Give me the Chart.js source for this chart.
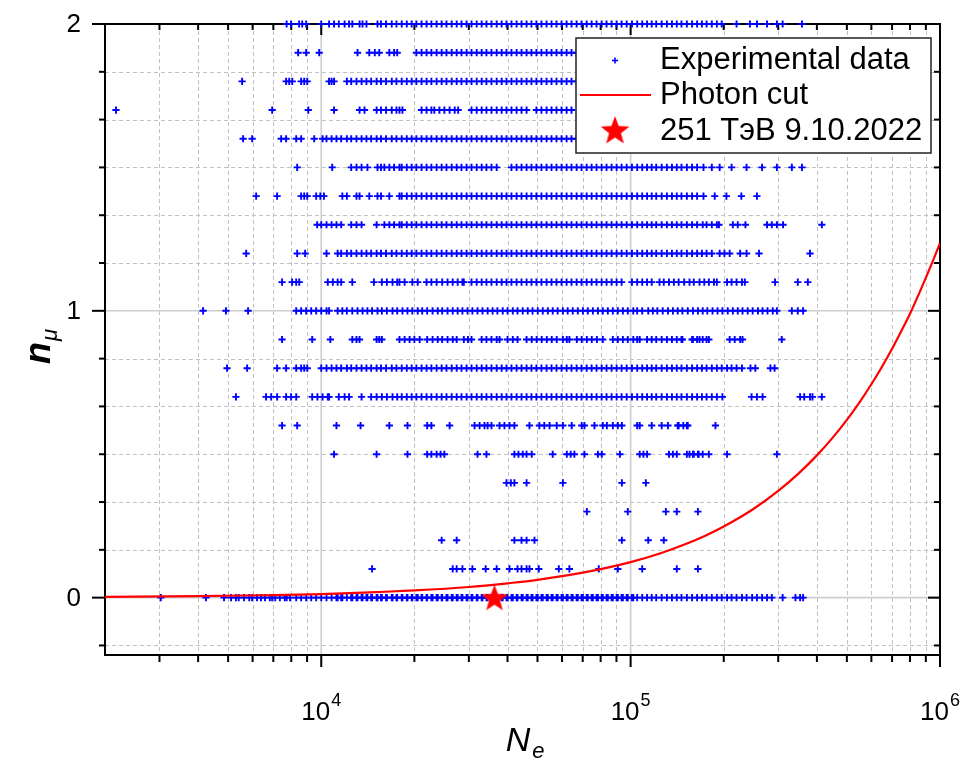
<!DOCTYPE html>
<html>
<head>
<meta charset="utf-8">
<title>n_mu vs N_e</title>
<script src="https://cdn.jsdelivr.net/npm/chart.js@4.4.0/dist/chart.umd.min.js"></script>
<style>
  html, body { margin: 0; padding: 0; background: #fff; }
  #wrap { width: 964px; height: 761px; }
</style>
</head>
<body>
<div id="wrap"><canvas id="chart" width="964" height="761"></canvas></div>
<script>
// n_mu levels of the experimental data rows
const muLevels = [0, 0.1, 0.2, 0.3, 0.4, 0.5, 0.6, 0.7, 0.8, 0.9, 1.0, 1.1, 1.2, 1.3, 1.4, 1.5, 1.6, 1.7, 1.8, 1.9, 2.0];

// N_e values (in thousands) for each n_mu row
const row00 = [3.03, 4.24, 4.85, 5.11, 5.30, 5.41, 5.63, 5.85, 5.98, 6.20, 6.39, 6.58, 6.82, 6.94, 7.10, 7.35, 7.62, 7.73, 7.93, 8.30, 8.61, 8.94, 9.28, 9.63, 10.0, 10.4, 10.8, 11.2, 11.3, 11.6, 11.7, 12.1, 12.5, 12.6, 13.0, 13.1, 13.5, 13.6, 14.0, 14.1, 14.5, 14.6, 15.1, 15.2, 15.6, 15.7, 16.2, 16.3, 16.9, 17.0, 17.5, 17.6, 18.2, 18.3, 18.9, 19.0, 19.6, 19.7, 20.3, 20.5, 21.1, 21.2, 21.9, 22.0, 22.7, 22.9, 23.6, 23.8, 24.5, 24.6, 25.4, 25.6, 26.4, 26.6, 27.4, 27.6, 28.4, 28.6, 29.5, 29.7, 30.6, 30.8, 31.8, 32.0, 33.0, 33.2, 34.2, 34.5, 35.5, 35.8, 36.9, 37.1, 38.3, 38.6, 39.7, 40.0, 41.2, 41.6, 42.8, 43.1, 44.4, 44.8, 46.1, 46.5, 47.8, 48.2, 49.6, 50.1, 51.5, 52.0, 53.5, 54.0, 55.5, 56.0, 57.6, 58.1, 59.8, 60.4, 62.1, 62.6, 64.4, 65.0, 66.9, 67.5, 69.4, 70.1, 72.1, 72.7, 74.8, 75.5, 77.6, 78.4, 80.6, 81.3, 83.6, 84.4, 86.8, 87.6, 90.1, 90.9, 93.5, 94.4, 97.1, 97.9, 101, 102, 105, 109, 113, 117, 121, 126, 131, 136, 141, 146, 152, 158, 164, 170, 176, 183, 190, 197, 205, 212, 220, 229, 237, 247, 256, 266, 276, 286, 310, 341, 353, 361];
const row01 = [14.6, 26.6, 27.4, 28.6, 30.8, 34.0, 36.9, 40.6, 43.1, 44.4, 46.1, 47.1, 50.5, 58.6, 63.4, 78.9, 90.9, 109, 141, 165];
const row02 = [24.5, 27.4, 42.1, 44.4, 46.1, 48.9, 93.7, 114, 128];
const row03 = [72.2, 97.9, 130, 141, 165];
const row04 = [39.7, 41.0, 42.1, 46.1, 60.4, 93.7, 112];
const row05 = [11.0, 15.1, 19.0, 22.0, 22.7, 23.6, 24.3, 25.0, 32.0, 34.2, 42.1, 43.4, 44.8, 46.1, 47.9, 56.0, 62.2, 64.0, 65.8, 70.9, 78.4, 80.7, 92.3, 107, 110, 113, 133, 137, 141, 152, 155, 159, 160, 165, 166, 171, 179, 205, 297];
const row06 = [7.47, 8.36, 11.2, 13.4, 16.6, 19.0, 22.0, 22.7, 26.0, 31.3, 32.5, 33.7, 34.5, 35.5, 37.7, 39.1, 40.6, 42.1, 47.1, 50.7, 52.6, 54.7, 57.7, 60.4, 64.5, 69.5, 70.9, 76.4, 81.3, 83.8, 87.6, 90.9, 93.7, 105, 107, 117, 126, 132, 142, 143, 148, 152, 153, 188];
const row07 = [5.30, 6.63, 6.89, 7.20, 7.70, 7.99, 8.30, 9.35, 9.72, 10.1, 10.5, 10.6, 11.4, 11.9, 12.3, 13.5, 14.5, 15.1, 15.7, 16.3, 17.0, 17.6, 18.2, 18.9, 19.6, 20.3, 21.1, 21.9, 22.7, 23.6, 24.5, 25.4, 26.4, 27.4, 28.4, 29.5, 30.6, 31.8, 33.0, 34.2, 35.5, 36.9, 38.3, 39.7, 41.2, 42.8, 44.4, 46.1, 47.8, 49.6, 51.5, 53.5, 55.5, 57.6, 59.8, 62.1, 64.4, 66.9, 69.4, 72.1, 74.8, 77.6, 80.6, 83.6, 86.8, 90.1, 93.5, 97.1, 101, 105, 109, 113, 117, 121, 126, 131, 136, 141, 146, 152, 158, 164, 170, 176, 183, 190, 198, 246, 256, 267, 353, 364, 380, 387, 415];
const row08 = [4.96, 5.76, 7.20, 7.70, 8.30, 8.61, 8.81, 9.01, 10.0, 10.4, 10.8, 11.2, 11.6, 12.1, 12.5, 13.0, 13.5, 14.0, 14.5, 15.1, 15.6, 16.2, 16.9, 17.5, 18.2, 18.9, 19.6, 20.3, 21.1, 21.9, 22.7, 23.6, 24.5, 25.4, 26.4, 27.4, 28.4, 29.5, 30.6, 31.8, 33.0, 34.2, 35.5, 36.9, 38.3, 39.7, 41.2, 42.8, 44.4, 46.1, 47.8, 49.6, 51.5, 53.5, 55.5, 57.6, 59.8, 62.1, 64.4, 66.9, 69.4, 72.1, 74.8, 77.6, 80.6, 83.6, 86.8, 90.1, 93.5, 97.1, 101, 105, 109, 113, 117, 121, 126, 131, 136, 141, 146, 152, 158, 164, 170, 176, 183, 190, 197, 205, 212, 220, 229, 244, 253, 283, 292];
const row09 = [7.47, 9.35, 10.7, 12.6, 13.0, 13.3, 15.1, 15.4, 15.7, 17.9, 18.6, 19.3, 20.0, 20.8, 22.0, 22.9, 23.8, 24.6, 25.6, 26.6, 27.4, 28.9, 29.8, 30.6, 33.0, 34.2, 35.5, 36.9, 37.7, 40.0, 41.6, 43.1, 46.1, 47.9, 49.7, 51.6, 53.6, 55.6, 57.7, 60.4, 62.2, 63.4, 67.0, 69.5, 72.2, 74.9, 77.8, 81.3, 87.6, 90.9, 94.4, 97.9, 102, 105, 107, 113, 117, 121, 126, 131, 136, 141, 146, 147, 158, 159, 164, 167, 171, 176, 179, 209, 217, 226, 230, 308];
const row10 = [4.15, 4.92, 5.80, 8.30, 8.61, 8.94, 9.28, 9.63, 10.0, 10.4, 10.6, 11.3, 11.7, 12.1, 12.6, 13.1, 13.6, 14.1, 14.6, 15.2, 15.7, 16.3, 17.0, 17.6, 18.3, 19.0, 19.7, 20.5, 21.2, 22.0, 22.9, 23.8, 24.6, 25.6, 26.6, 27.6, 28.6, 29.7, 30.8, 32.0, 33.2, 34.5, 35.8, 37.1, 38.6, 40.0, 41.6, 43.1, 44.8, 46.5, 48.2, 50.1, 52.0, 54.0, 56.0, 58.1, 60.4, 62.6, 65.0, 67.5, 70.1, 72.7, 75.5, 78.4, 81.3, 84.4, 87.6, 90.9, 94.4, 97.9, 102, 105, 109, 114, 118, 122, 127, 132, 137, 142, 147, 153, 159, 165, 171, 177, 184, 191, 198, 206, 214, 222, 230, 239, 248, 258, 267, 277, 288, 297, 332, 347, 361];
const row11 = [7.47, 8.05, 8.30, 8.49, 10.5, 10.9, 11.3, 11.6, 12.6, 14.8, 15.7, 16.3, 17.0, 17.6, 17.9, 18.6, 19.7, 20.5, 21.9, 22.7, 23.6, 24.6, 25.6, 26.6, 27.6, 28.6, 28.9, 30.6, 31.8, 33.0, 34.2, 35.5, 36.9, 38.3, 39.7, 41.2, 42.8, 44.4, 46.1, 47.8, 49.6, 51.5, 53.5, 55.5, 57.6, 59.8, 62.1, 64.4, 66.9, 69.4, 72.1, 74.8, 77.6, 80.6, 83.6, 86.8, 90.1, 93.5, 101, 105, 109, 113, 117, 124, 128, 133, 138, 143, 149, 155, 160, 167, 173, 179, 186, 190, 205, 212, 220, 229, 234, 293, 347, 374];
const row12 = [5.72, 8.36, 8.87, 10.4, 11.3, 11.6, 12.1, 12.5, 13.0, 13.5, 14.0, 14.5, 15.1, 15.6, 16.2, 16.9, 17.5, 18.2, 18.9, 19.6, 20.3, 21.1, 21.9, 22.7, 23.6, 24.5, 25.4, 26.4, 27.4, 28.4, 29.5, 30.6, 31.8, 33.0, 34.2, 35.5, 36.9, 38.3, 39.7, 41.2, 42.8, 44.4, 46.1, 47.8, 49.6, 51.5, 53.5, 55.5, 57.6, 59.8, 62.1, 64.4, 66.9, 69.4, 72.1, 74.8, 77.6, 80.6, 83.6, 86.8, 90.1, 93.5, 97.1, 101, 105, 109, 113, 117, 121, 126, 131, 136, 141, 146, 152, 158, 164, 170, 176, 183, 194, 201, 209, 226, 237, 260, 380];
const row13 = [9.70, 10.0, 10.4, 10.8, 11.2, 11.6, 12.5, 13.0, 13.5, 15.1, 16.0, 16.6, 17.2, 17.9, 18.2, 18.9, 19.6, 20.3, 21.1, 21.9, 22.7, 23.6, 24.5, 25.4, 26.4, 27.4, 28.4, 29.5, 30.6, 31.8, 33.0, 34.2, 35.5, 36.9, 38.3, 39.7, 41.2, 42.8, 44.4, 46.1, 47.8, 49.6, 51.5, 53.5, 55.5, 57.6, 59.8, 62.1, 64.4, 66.9, 69.4, 72.1, 74.8, 77.6, 80.6, 83.6, 86.8, 90.1, 93.5, 97.1, 101, 105, 109, 113, 117, 121, 126, 131, 136, 141, 146, 152, 158, 164, 171, 176, 183, 190, 193, 214, 222, 235, 276, 286, 297, 311, 415];
const row14 = [6.16, 7.20, 8.61, 8.81, 9.01, 9.63, 9.93, 10.2, 11.7, 12.1, 13.0, 13.3, 14.3, 15.2, 15.6, 16.6, 17.9, 18.2, 18.9, 19.6, 20.3, 21.1, 21.9, 22.7, 23.6, 24.5, 25.4, 26.4, 27.4, 28.4, 29.5, 30.6, 31.8, 33.0, 34.2, 35.5, 36.9, 38.3, 39.7, 41.2, 42.8, 44.4, 46.1, 47.8, 49.6, 51.5, 53.5, 55.5, 57.6, 59.8, 62.1, 64.4, 66.9, 69.4, 72.1, 74.8, 77.6, 80.6, 83.6, 86.8, 90.1, 93.5, 97.1, 101, 105, 109, 113, 117, 121, 126, 131, 136, 141, 146, 152, 158, 164, 172, 187, 204, 228, 256];
const row15 = [8.36, 10.85, 12.5, 13.0, 13.5, 14.1, 15.2, 15.6, 16.0, 16.6, 17.2, 17.9, 18.2, 18.9, 19.6, 20.3, 21.1, 21.9, 22.7, 23.6, 24.5, 25.4, 26.4, 27.4, 28.4, 29.5, 30.6, 31.8, 33.0, 34.2, 35.5, 36.9, 41.2, 42.8, 44.4, 46.1, 47.8, 49.6, 51.5, 53.5, 55.5, 57.6, 59.8, 62.1, 64.4, 66.9, 69.4, 72.1, 74.8, 77.6, 80.6, 83.6, 86.8, 90.1, 93.5, 97.1, 101, 105, 109, 113, 117, 121, 126, 131, 136, 141, 146, 152, 158, 164, 172, 183, 194, 212, 237, 266, 297, 332, 358];
const row16 = [5.59, 5.98, 7.42, 7.70, 8.30, 8.61, 9.49, 10.1, 10.4, 10.8, 11.2, 11.6, 12.1, 12.5, 13.0, 13.5, 14.0, 14.5, 15.1, 15.6, 16.2, 16.9, 17.5, 18.2, 18.9, 19.6, 20.3, 21.1, 21.9, 22.7, 23.6, 24.5, 25.4, 26.4, 27.4, 28.4, 29.5, 30.6, 31.8, 33.0, 34.2, 35.5, 36.9, 38.3, 39.7, 41.2, 42.8, 44.4, 46.1, 47.8, 49.6, 51.5, 53.5, 55.5, 57.6, 59.8, 62.1, 64.4, 66.9, 72.1, 77.6, 83.6, 90.1, 97.1, 105, 113, 121, 131, 141, 152, 164];
const row17 = [2.17, 6.94, 9.08, 11.0, 13.3, 13.8, 15.1, 15.6, 16.2, 16.9, 17.5, 17.9, 18.3, 21.1, 21.9, 22.7, 23.2, 24.1, 25.0, 26.0, 27.0, 27.7, 30.6, 31.8, 33.0, 34.2, 35.5, 36.9, 38.3, 39.7, 41.2, 42.8, 44.4, 46.1, 49.6, 51.5, 53.5, 55.5, 57.6, 59.8, 62.1, 64.4, 73.8, 85.7, 107, 133];
const row18 = [5.55, 7.70, 7.88, 8.06, 8.61, 8.81, 9.01, 10.6, 10.8, 11.0, 12.1, 12.5, 13.0, 13.5, 14.0, 14.5, 15.1, 15.6, 16.2, 16.9, 17.5, 18.2, 18.9, 19.6, 20.3, 21.1, 21.9, 22.7, 23.6, 24.5, 25.4, 26.4, 27.4, 28.4, 29.5, 30.6, 31.8, 33.0, 34.2, 35.5, 36.9, 38.3, 39.7, 41.2, 42.8, 44.4, 46.1, 47.8, 49.6, 51.5, 53.5, 55.5, 57.6, 59.8, 62.1, 64.4, 66.9, 72.1, 77.6, 83.6, 90.1, 97.1, 105, 113, 121, 131, 141, 152, 164];
const row19 = [8.42, 8.94, 9.85, 13.1, 14.3, 14.9, 15.4, 16.6, 17.2, 17.6, 20.3, 21.1, 21.9, 22.7, 23.6, 24.5, 25.4, 26.4, 27.4, 28.4, 29.5, 30.6, 31.8, 33.0, 34.2, 35.5, 36.9, 38.3, 39.7, 41.2, 42.8, 44.4, 46.1, 47.8, 49.6, 51.5, 53.5, 55.5, 57.6, 59.8, 62.1, 64.4, 66.9, 72.1, 77.6, 83.6, 90.1, 97.1, 105, 113, 121, 131, 141, 152, 164];
const row20 = [7.73, 7.99, 8.48, 8.68, 8.94, 10.0, 10.6, 11.0, 11.4, 11.9, 12.3, 12.6, 13.3, 13.6, 14.0, 15.2, 15.6, 16.2, 16.9, 17.5, 18.2, 18.9, 19.6, 20.3, 21.1, 21.9, 22.7, 23.6, 24.5, 25.4, 26.4, 27.4, 28.4, 29.5, 30.6, 31.8, 33.0, 34.2, 35.5, 36.9, 38.3, 39.7, 41.2, 42.8, 44.4, 46.1, 47.8, 49.6, 51.5, 53.5, 55.5, 57.6, 59.8, 62.1, 64.4, 66.9, 69.4, 72.1, 74.8, 77.6, 80.6, 83.6, 86.8, 90.1, 93.5, 97.1, 101, 105, 109, 113, 117, 121, 126, 131, 136, 141, 146, 152, 158, 164, 170, 176, 183, 190, 197, 220, 243, 256, 276, 297, 310, 358];

const neRows = [row00, row01, row02, row03, row04, row05, row06, row07, row08, row09, row10,
                row11, row12, row13, row14, row15, row16, row17, row18, row19, row20];

// photon cut curve
const photonCutNe = [2000, 4000, 7000, 10000, 15000, 20000, 30000, 40000, 50000, 70000, 100000, 125000, 150000, 175000, 200000, 250000, 300000, 350000, 400000, 450000, 500000, 550000, 600000, 650000, 700000, 750000, 800000, 850000, 900000, 950000, 1000000];
const photonCutMu = [0.0025, 0.005, 0.009, 0.012, 0.019, 0.025, 0.037, 0.050, 0.062, 0.087, 0.124, 0.155, 0.186, 0.217, 0.248, 0.31, 0.372, 0.434, 0.496, 0.558, 0.62, 0.682, 0.744, 0.806, 0.868, 0.93, 0.99, 1.053, 1.115, 1.176, 1.236];

// the 251 TeV event
const eventNe = [36300];
const eventMu = [0];

// axis ticks
const xMajorTicks = [1e4, 1e5, 1e6];
const xTickExp = ['4', '5', '6'];
const xMinorTicks = [3000, 4000, 5000, 6000, 7000, 8000, 9000,
                     20000, 30000, 40000, 50000, 60000, 70000, 80000, 90000,
                     200000, 300000, 400000, 500000, 600000, 700000, 800000, 900000];
const yMajorTicks = [0, 1, 2];
const yTickLabels = ['0', '1', '2'];
const yMinorTicks = [-0.1667, 0.1667, 0.3333, 0.5, 0.6667, 0.8333, 1.1667, 1.3333, 1.5, 1.6667, 1.8333];

const FONT = "'Liberation Sans', Arial, sans-serif";

const expPoints = [];
neRows.forEach((row, i) => {
    row.forEach(v => expPoints.push({ x: v * 1000, y: muLevels[i] }));
});

function makeStar(size) {
    const c = document.createElement('canvas');
    c.width = size;
    c.height = size;
    const g = c.getContext('2d');
    const cx = size / 2, cy = size / 2 + size * 0.04;
    const R = size / 2, r = R * 0.42;
    g.fillStyle = '#ff0000';
    g.beginPath();
    for (let k = 0; k < 10; k++) {
        const a = -Math.PI / 2 + k * Math.PI / 5;
        const rr = k % 2 ? r : R;
        g.lineTo(cx + rr * Math.cos(a), cy + rr * Math.sin(a));
    }
    g.closePath();
    g.fill();
    return c;
}
const starImg = makeStar(28);

function strokeLine(ctx, x1, y1, x2, y2) {
    ctx.beginPath();
    ctx.moveTo(x1, y1);
    ctx.lineTo(x2, y2);
    ctx.stroke();
}

// grid, frame, ticks and axis text
const framePlugin = {
    id: 'frame',
    beforeDatasetsDraw(chart) {
        const { ctx, chartArea: a, scales: { x, y } } = chart;
        ctx.save();

        // minor grid (dashed)
        ctx.strokeStyle = '#c2c2c2';
        ctx.lineWidth = 1;
        ctx.setLineDash([4, 3]);
        xMinorTicks.forEach(v => {
            const px = Math.round(x.getPixelForValue(v)) + 0.5;
            strokeLine(ctx, px, a.top, px, a.bottom);
        });
        yMinorTicks.forEach(v => {
            const py = Math.round(y.getPixelForValue(v)) + 0.5;
            strokeLine(ctx, a.left, py, a.right, py);
        });

        // major grid (solid)
        ctx.setLineDash([]);
        ctx.strokeStyle = '#cdcdcd';
        ctx.lineWidth = 1.6;
        xMajorTicks.forEach(v => {
            const px = x.getPixelForValue(v);
            if (px < a.right - 2) strokeLine(ctx, px, a.top, px, a.bottom);
        });
        yMajorTicks.forEach(v => {
            const py = y.getPixelForValue(v);
            if (py > a.top + 2) strokeLine(ctx, a.left, py, a.right, py);
        });

        // frame
        ctx.strokeStyle = '#000';
        ctx.lineWidth = 2;
        ctx.strokeRect(a.left, a.top, a.width, a.height);

        // ticks: bottom/left outward, top/right inward
        xMajorTicks.forEach(v => {
            const px = x.getPixelForValue(v);
            strokeLine(ctx, px, a.bottom, px, a.bottom + 12);
            strokeLine(ctx, px, a.top, px, a.top + 11);
        });
        xMinorTicks.forEach(v => {
            const px = x.getPixelForValue(v);
            strokeLine(ctx, px, a.bottom, px, a.bottom + 7);
            strokeLine(ctx, px, a.top, px, a.top + 6);
        });
        yMajorTicks.forEach(v => {
            const py = y.getPixelForValue(v);
            strokeLine(ctx, a.left - 13, py, a.left, py);
            strokeLine(ctx, a.right - 12, py, a.right, py);
        });
        yMinorTicks.forEach(v => {
            const py = y.getPixelForValue(v);
            strokeLine(ctx, a.left - 6, py, a.left, py);
            strokeLine(ctx, a.right - 6, py, a.right, py);
        });

        // tick labels
        ctx.fillStyle = '#000';
        ctx.textBaseline = 'middle';
        ctx.textAlign = 'right';
        ctx.font = '26px ' + FONT;
        yMajorTicks.forEach((v, i) => {
            ctx.fillText(yTickLabels[i], a.left - 24, y.getPixelForValue(v) + 1);
        });

        ctx.textBaseline = 'alphabetic';
        ctx.textAlign = 'left';
        xMajorTicks.forEach((v, i) => {
            const px = x.getPixelForValue(v);
            ctx.font = '26px ' + FONT;
            const w1 = ctx.measureText('10').width;
            ctx.font = '18px ' + FONT;
            const w2 = ctx.measureText(xTickExp[i]).width;
            const x0 = px - (w1 + w2 + 1) / 2;
            ctx.font = '26px ' + FONT;
            ctx.fillText('10', x0, a.bottom + 65);
            ctx.font = '18px ' + FONT;
            ctx.fillText(xTickExp[i], x0 + w1 + 1, a.bottom + 51);
        });

        // axis titles
        ctx.font = 'italic 34px ' + FONT;
        const wN = ctx.measureText('N').width;
        ctx.fillText('N', 524 - wN / 2 - 6, a.bottom + 96);
        ctx.font = 'italic 22px ' + FONT;
        ctx.fillText('e', 524 + wN / 2 - 4, a.bottom + 103);

        ctx.save();
        ctx.translate(50, 364);
        ctx.rotate(-Math.PI / 2);
        ctx.font = 'italic bold 36px ' + FONT;
        ctx.fillText('n', 0, 0);
        const wn = ctx.measureText('n').width;
        ctx.font = 'italic 22px ' + FONT;
        ctx.fillText('\u03bc', wn + 1, 7);
        ctx.restore();

        ctx.restore();
    }
};

// legend box in the upper right of the plot
const legendPlugin = {
    id: 'boxLegend',
    afterDatasetsDraw(chart) {
        const { ctx } = chart;
        ctx.save();
        ctx.fillStyle = '#fff';
        ctx.fillRect(576, 38, 355, 115);
        ctx.strokeStyle = '#222';
        ctx.lineWidth = 1.5;
        ctx.strokeRect(576, 38, 355, 115);

        // experimental data marker
        ctx.strokeStyle = '#0000ff';
        ctx.lineWidth = 1.6;
        strokeLine(ctx, 612, 60.5, 618, 60.5);
        strokeLine(ctx, 615, 57.5, 615, 63.5);

        // photon cut line
        ctx.strokeStyle = '#ff0000';
        ctx.lineWidth = 2;
        strokeLine(ctx, 580, 95, 651, 95);

        // event star
        ctx.drawImage(starImg, 615 - 15, 130 - 15, 30, 30);

        ctx.fillStyle = '#000';
        ctx.font = '31px ' + FONT;
        ctx.textAlign = 'left';
        ctx.textBaseline = 'middle';
        ctx.fillText('Experimental data', 660, 60);
        ctx.fillText('Photon cut', 660, 95);
        ctx.fillText('251 ТэВ 9.10.2022', 660, 131);
        ctx.restore();
    }
};

new Chart(document.getElementById('chart'), {
    type: 'scatter',
    data: {
        datasets: [
            {
                label: '251 ТэВ 9.10.2022',
                data: eventNe.map((v, i) => ({ x: v, y: eventMu[i] })),
                pointStyle: starImg,
                pointRadius: 14,
                order: 0,
                clip: false
            },
            {
                label: 'Photon cut',
                data: photonCutNe.map((v, i) => ({ x: v, y: photonCutMu[i] })),
                showLine: true,
                borderColor: '#ff0000',
                borderWidth: 2.2,
                cubicInterpolationMode: 'monotone',
                pointRadius: 0,
                order: 1
            },
            {
                label: 'Experimental data',
                data: expPoints,
                pointStyle: 'cross',
                pointRadius: 3.6,
                pointBorderColor: '#0000ff',
                pointBackgroundColor: '#0000ff',
                pointBorderWidth: 1.9,
                borderColor: '#0000ff',
                order: 2,
                clip: false
            }
        ]
    },
    options: {
        responsive: false,
        animation: false,
        events: [],
        layout: { padding: { left: 105, right: 24, top: 24, bottom: 106 } },
        plugins: {
            legend: { display: false },
            tooltip: { enabled: false }
        },
        scales: {
            x: { type: 'logarithmic', min: 2000, max: 1000000, display: false },
            y: { type: 'linear', min: -0.2, max: 2, display: false }
        }
    },
    plugins: [framePlugin, legendPlugin]
});
</script>
</body>
</html>
